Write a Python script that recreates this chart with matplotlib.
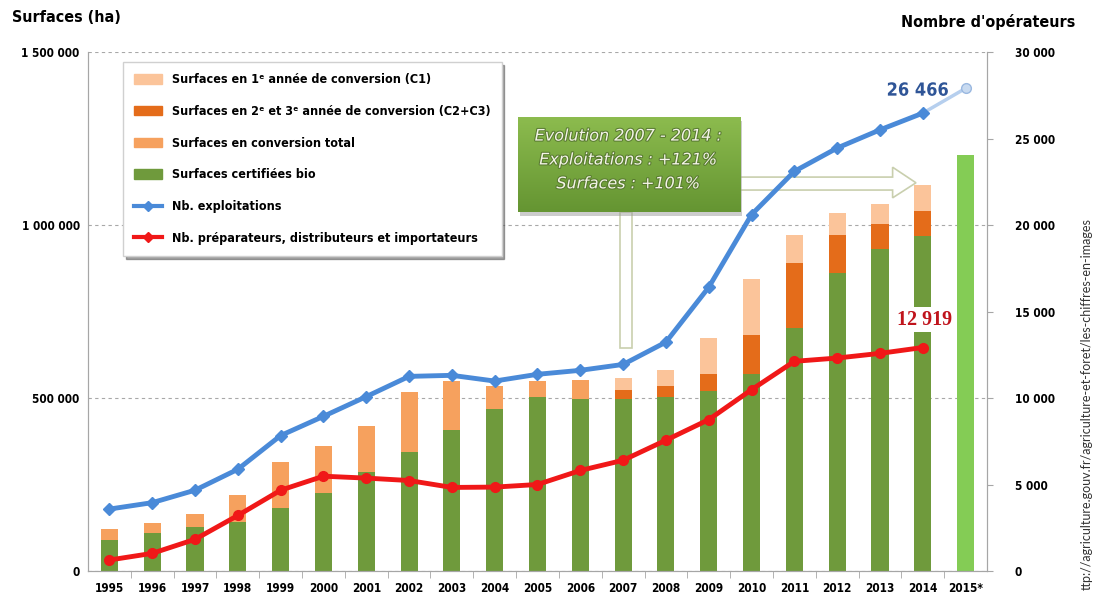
import matplotlib.pyplot as plt
import matplotlib.patches as mpatches
import matplotlib.patheffects as pe
from matplotlib.lines import Line2D
import numpy as np

years = ['1995', '1996', '1997', '1998', '1999', '2000', '2001', '2002', '2003', '2004',
         '2005', '2006', '2007', '2008', '2009', '2010', '2011', '2012', '2013', '2014', '2015*']

# surfaces (ha)
certifie = [91000, 111000, 126000, 142000, 181000, 224000, 287000, 343000, 407000, 467000,
            503000, 498000, 497000, 503000, 520000, 570000, 702000, 861000, 931000, 968000]
conv_total = [29000, 27000, 40000, 77000, 133000, 138000, 133000, 173000, 142000, 67000,
              47000, 55000]                      # 1995-2006
c2c3 = [27000, 32000, 50000, 111000, 188000, 110000, 72000, 72000]   # 2007-2014
c1 = [35000, 47000, 104000, 164000, 81000, 64000, 58000, 76000]      # 2007-2014
surface_2015 = 1202000

# nombre d'operateurs
exploitations = [3580, 3950, 4670, 5880, 7830, 8940, 10080, 11250, 11310, 10980,
                 11370, 11600, 11940, 13230, 16400, 20600, 23100, 24450, 25500, 26466]
exploitations_2015 = 27900
preparateurs = [635, 1020, 1830, 3210, 4670, 5480, 5370, 5230, 4830, 4850,
                5000, 5810, 6400, 7560, 8750, 10480, 12120, 12310, 12580, 12919]

GREEN = '#6f9a3c'
ORANGE = '#f6a15e'
DARK_OR = '#e46c1a'
LIGHT_OR = '#fbc49a'
BLUE = '#4a8ad8'
RED = '#f01818'
COND = dict(family='DejaVu Sans', stretch='condensed', weight='bold')


def fmt(v):
    return f'{v:,.0f}'.replace(',', ' ')


fig = plt.figure(figsize=(11.01, 5.96), dpi=100)
ax = fig.add_axes([88 / 1101, 25 / 596, 899 / 1101, 519 / 596])
ax2 = ax.twinx()

x = np.arange(len(years))
n = len(certifie)
n_old = len(conv_total)
w = 0.4

ax.bar(x[:n], certifie, w, color=GREEN, zorder=2)
ax.bar(x[:n_old], conv_total, w, bottom=certifie[:n_old], color=ORANGE, zorder=2)
bot = np.array(certifie[n_old:])
ax.bar(x[n_old:n], c2c3, w, bottom=bot, color=DARK_OR, zorder=2)
ax.bar(x[n_old:n], c1, w, bottom=bot + np.array(c2c3), color=LIGHT_OR, zorder=2)
ax.bar(x[n], surface_2015, w, color='#84cc55', zorder=2)

ax.set_xlim(-0.5, len(years) - 0.5)
ax.set_ylim(0, 1500000)
ax2.set_ylim(0, 30000)

ax.set_yticks([0, 500000, 1000000, 1500000])
ax.set_yticklabels([fmt(v) for v in ax.get_yticks()], fontsize=8.5, **COND)
ax.tick_params(axis='y', length=0, pad=6)
ax.yaxis.grid(True, linestyle=(0, (3, 3)), color='#a8a8a8', lw=0.8, zorder=0)
ax.set_axisbelow(True)

ax.set_xticks(x)
ax.set_xticklabels(years, fontsize=8.5, **COND)
ax.set_xticks(x[:-1] + 0.5, minor=True)
ax.tick_params(axis='x', which='major', length=0, pad=8)
ax.tick_params(axis='x', which='minor', length=5, color='#a6a6a6')

ax2.set_yticks(np.arange(0, 30001, 5000))
ax2.set_yticklabels([fmt(v) for v in ax2.get_yticks()], fontsize=8.5, **COND)
ax2.tick_params(axis='y', length=4, color='#a6a6a6', pad=16)

for a in (ax, ax2):
    a.spines['top'].set_visible(False)
    for s in ('left', 'right', 'bottom'):
        a.spines[s].set_color('#a6a6a6')

# lines
ax2.plot([x[n - 1], x[n]], [exploitations[-1], exploitations_2015], color='#b6cfee',
         lw=2.5, zorder=4)
ax2.plot(x[n], exploitations_2015, 'o', ms=7, mfc='#c8daf0', mec='#9ab8e0', zorder=5)
ax2.plot(x[:n], exploitations, color=BLUE, lw=3.5, marker='D', ms=6, zorder=5)
ax2.plot(x[:n], preparateurs, color=RED, lw=3.5, marker='o', ms=7, zorder=5)

ax2.text(x[n - 1] + 0.6, exploitations[-1] + 1300, fmt(exploitations[-1]), ha='right',
         va='center', fontsize=13, color='#2f5597',
         path_effects=[pe.withStroke(linewidth=2.5, foreground='white')], zorder=6, **COND)
ax2.text(x[n - 1] + 0.05, preparateurs[-1] + 1600, fmt(preparateurs[-1]), ha='center',
         va='center', family=['Liberation Serif', 'DejaVu Serif'], fontweight='bold',
         fontsize=14.5, color='#c0141c', zorder=6,
         bbox=dict(boxstyle='square,pad=0.12', fc='white', ec='none'))

# annotation box with arrow
tr = ax2.transAxes
arrow = mpatches.Polygon([(0.725, 0.734), (0.895, 0.734), (0.895, 0.719), (0.921, 0.748),
                          (0.895, 0.778), (0.895, 0.759), (0.725, 0.759)],
                         closed=True, transform=tr, fc='white', ec='#c9cfae', lw=1.2, zorder=2)
ax2.add_patch(arrow)
ax2.add_patch(mpatches.Rectangle((0.592, 0.430), 0.013, 0.262, transform=tr, fc='white',
                                 ec='#c9cfae', lw=1.2, zorder=2))
ax2.add_patch(mpatches.Rectangle((0.481, 0.684), 0.247, 0.183, transform=tr,
                                 fc='#9a9a9a', ec='none', alpha=0.5, zorder=6))
grad = np.linspace(0, 1, 64).reshape(-1, 1)
ax2.imshow(grad, cmap=plt.matplotlib.colors.LinearSegmentedColormap.from_list(
    'g', ['#659532', '#8cbb4e']), extent=(0.478, 0.725, 0.692, 0.875), transform=tr,
    aspect='auto', origin='lower', zorder=7)
for i, t in enumerate(['Evolution 2007 - 2014 :', 'Exploitations : +121%', 'Surfaces : +101%']):
    ax2.text(0.601, 0.838 - i * 0.046, t, transform=tr, ha='center', va='center',
             style='italic', fontsize=11.5, color='#f4f4e8', zorder=8,
             path_effects=[pe.withStroke(linewidth=1.5, foreground='#587a30')])
ax2.set_ylim(0, 30000)
ax2.set_xlim(-0.5, len(years) - 0.5)

# legend
handles = [
    mpatches.Patch(color=LIGHT_OR),
    mpatches.Patch(color=DARK_OR),
    mpatches.Patch(color=ORANGE),
    mpatches.Patch(color=GREEN),
    Line2D([], [], color=BLUE, lw=3, marker='D', ms=5),
    Line2D([], [], color=RED, lw=3, marker='D', ms=5),
]
labels = ['Surfaces en 1ᵉ année de conversion (C1)',
          'Surfaces en 2ᵉ et 3ᵉ année de conversion (C2+C3)',
          'Surfaces en conversion total',
          'Surfaces certifiées bio',
          'Nb. exploitations',
          'Nb. préparateurs, distributeurs et importateurs']
leg = ax2.legend(handles, labels, loc='upper left', bbox_to_anchor=(123 / 1101, 1 - 62 / 596),
                 bbox_transform=fig.transFigure, prop=dict(size=9, **COND),
                 labelspacing=1.5, handlelength=2.2, handleheight=0.8, borderpad=0.9,
                 handletextpad=0.8, borderaxespad=0, fancybox=False, shadow=True,
                 framealpha=1, edgecolor='#d0d0d0')
leg.set_zorder(10)

fig.text(12 / 1101, 1 - 18 / 596, 'Surfaces (ha)', fontsize=11.5, va='center', ha='left',
         **COND)
fig.text(1075 / 1101, 1 - 22 / 596, "Nombre d'opérateurs", fontsize=11.5, va='center',
         ha='right', **COND)
fig.text(1087 / 1101, 1 - 590 / 596,
         'ttp://agriculture.gouv.fr/agriculture-et-foret/les-chiffres-en-images',
         rotation=90, ha='center', va='bottom', family=['Lato', 'DejaVu Sans'],
         fontsize=9, color='#333333')

fig.savefig('out.png', dpi=100)
